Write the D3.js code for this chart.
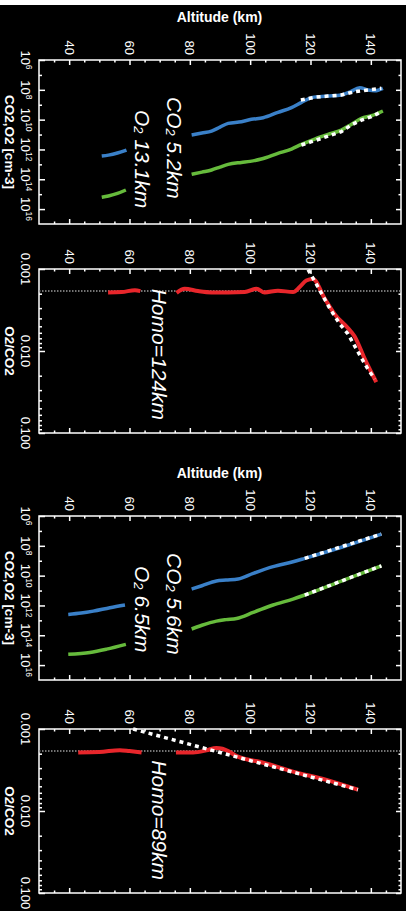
<!DOCTYPE html>
<html>
<head>
<meta charset="utf-8">
<title>CO2 / O2 homopause</title>
<script src="https://cdn.jsdelivr.net/npm/d3@7"></script>
<style>
  html, body { margin: 0; padding: 0; background: #000; }
  svg { display: block; }
  text { font-family: "Liberation Sans", Arial, Helvetica, sans-serif; fill: #fff; }
</style>
</head>
<body>
<script>
var width = 406, height = 911;

// axes
var altTicks = [40, 60, 80, 100, 120, 140];
var altMinor = [35, 45, 50, 55, 65, 70, 75, 85, 90, 95, 105, 110, 115, 125, 130, 135, 145];
var densTicks = [6, 8, 10, 12, 14, 16];          // log10 cm-3
var densMinor = [7, 9, 11, 13, 15];
var ratioTicks = [0.001, 0.01, 0.1];
var ratioLabels = ['0.001', '0.010', '0.100'];
var ratioMinor = [0.002, 0.003, 0.004, 0.005, 0.006, 0.007, 0.008, 0.009,
                  0.02, 0.03, 0.04, 0.05, 0.06, 0.07, 0.08, 0.09];

// case A : [altitude km, log10 density], null = no data
var co2A = [[50.8,12.44],[53,12.38],[56,12.24],[59,12.04], null,
  [80.6,11.03],[84,10.90],[87.2,10.77],[90,10.50],[92.7,10.25],[97.1,10.14],[100.4,9.98],
  [104.3,9.87],[109.2,9.51],[113.7,9.20],[117,8.84],[120.3,8.53],[123,8.46],[125.8,8.42],
  [130.2,8.35],[133,8.15],[136.3,7.86],[139.1,8.01],[141.3,8.06],[144,7.90]];
var co2FitA = [[116.8,8.68],[121.4,8.50],[125.8,8.42],[130.2,8.35],[134.6,8.13],[139.1,8.01],[143.5,7.90]];
var o2A = [[50.8,15.21],[53,15.12],[56,14.95],[58.8,14.72], null,
  [80.6,13.67],[84,13.52],[87.2,13.38],[90,13.18],[92.7,13.0],[97.1,12.87],[100,12.80],
  [103.7,12.64],[109.2,12.26],[113.7,11.97],[117,11.66],[121.4,11.30],[125.8,10.99],
  [130.2,10.70],[133.5,10.32],[136.9,9.91],[140.2,9.74],[144,9.42]];
var o2FitA = [[117,11.70],[120.3,11.48],[123.6,11.26],[126.9,11.03],[130.2,10.81],[133.5,10.36],
  [136.9,10.03],[140.2,9.80],[143.5,9.47]];
// O2/CO2 ratio
var ratioA = [[52.9,0.00193],[57.4,0.00191],[61.8,0.00181],[63.6,0.00186], null,
  [75.6,0.00195],[78.3,0.00174],[82.7,0.00186],[87.2,0.00193],[92.7,0.00193],[98.2,0.00191],
  [102.1,0.00174],[104.8,0.00193],[109.2,0.00184],[114.2,0.00191],[116.4,0.00166],
  [118.6,0.00138],[120.8,0.00132],[124.7,0.00229],[128,0.00355],[132.4,0.00525],
  [134.6,0.00661],[137.9,0.0123],[141.8,0.0240]];
var ratioFitA = [[119.2,0.00102],[122.5,0.00166],[126.4,0.00302],[129.7,0.00468],[132.4,0.00617],
  [135.7,0.0102],[139,0.0166],[141.3,0.0219]];
var lowRatioA = 0.00186;

// case B
var co2B = [[39.7,12.60],[44,12.51],[48,12.38],[53.5,12.15],[58.5,11.97], null,
  [80.6,10.90],[84,10.68],[88.8,10.36],[92,10.30],[96,10.23],[101,9.85],[107.6,9.40],
  [114.2,9.07],[118.1,8.84],[130.8,8.06],[143.5,7.21]];
var co2FitB = [[118.1,8.84],[143.5,7.21]];
var o2B = [[39.7,15.28],[46.9,15.15],[52.4,14.93],[58.8,14.61], null,
  [80.6,13.58],[84,13.33],[88.8,13.05],[92,12.95],[95.5,12.87],[101,12.47],[107.6,11.97],
  [114.2,11.57],[118.1,11.30],[130.8,10.32],[143.5,9.34]];
var o2FitB = [[118.1,11.30],[143.5,9.34]];
var ratioB = [[43,0.00193],[50,0.00191],[56.8,0.00181],[60,0.00186],[64,0.00193], null,
  [75.4,0.00193],[81.1,0.00193],[85.5,0.00182],[88.8,0.00170],[90.8,0.00174],[92.7,0.00186],
  [95.5,0.00214],[98.8,0.00234],[103.1,0.00251],[114.2,0.00331],[125.3,0.00417],[135.7,0.00550]];
var ratioFitB = [[61.2,0.00100],[135.7,0.00550]];
var lowRatioB = 0.00186;

var blue = '#3a80c8', green = '#66bb3c', red = '#e8262b';

var svg = d3.select('body').append('svg').attr('width', width).attr('height', height);
svg.append('rect').attr('width', width).attr('height', height).attr('fill', '#000');
svg.append('rect').attr('width', width).attr('height', 5).attr('fill', '#fff');

var x = d3.scaleLinear().domain([30, 150]).range([39, 401]);
var frameH = 164;

function ticks(g, axis, tx, ty, vals, size) {
    var a = g.append('g').attr('transform', 'translate(' + tx + ',' + ty + ')')
        .call(axis.tickValues(vals).tickSize(-size).tickFormat(''));
    a.select('.domain').remove();
    a.selectAll('line').attr('stroke-width', 1.5);
}

function drawFrame(top, y, yMajor, yMinor) {
    var g = svg.append('g').attr('color', '#fff');
    var x0 = x.range()[0], x1 = x.range()[1];
    ticks(g, d3.axisTop(x), 0, top, altTicks, 5);
    ticks(g, d3.axisTop(x), 0, top, altMinor, 2.5);
    ticks(g, d3.axisBottom(x), 0, top + frameH, altTicks, 5);
    ticks(g, d3.axisBottom(x), 0, top + frameH, altMinor, 2.5);
    ticks(g, d3.axisLeft(y), x0, 0, yMajor, 6);
    ticks(g, d3.axisLeft(y), x0, 0, yMinor, 3);
    ticks(g, d3.axisRight(y), x1, 0, yMajor, 5);
    ticks(g, d3.axisRight(y), x1, 0, yMinor, 2.5);
    g.append('rect').attr('x', x0).attr('y', top).attr('width', x1 - x0).attr('height', frameH)
        .attr('fill', 'none').attr('stroke', '#fff').attr('stroke-width', 1.5);
    g.selectAll('.altlab').data(altTicks).enter().append('text')
        .attr('transform', function(d){ return 'translate(' + x(d) + ',' + (top - 5) + ') rotate(90)'; })
        .attr('text-anchor', 'end').attr('dy', '0.35em').attr('font-size', 13)
        .text(function(d){ return d; });
    return g;
}

function drawLine(g, data, y, color, w) {
    var line = d3.line().defined(function(d){ return d !== null; })
        .x(function(d){ return x(d[0]); }).y(function(d){ return y(d[1]); })
        .curve(d3.curveMonotoneX);
    g.append('path').attr('d', line(data)).attr('fill', 'none').attr('stroke', color)
        .attr('stroke-width', w).attr('stroke-linejoin', 'round');
}

function drawFit(g, data, y) {
    var line = d3.line().x(function(d){ return x(d[0]); }).y(function(d){ return y(d[1]); });
    g.append('path').attr('d', line(data)).attr('fill', 'none').attr('stroke', '#fff')
        .attr('stroke-width', 3.5).attr('stroke-dasharray', '4,4');
}

function vLabel(g, px, py, anchor, main, sub, rest) {
    var t = g.append('text').attr('transform', 'translate(' + px + ',' + py + ') rotate(90)')
        .attr('text-anchor', anchor).attr('font-size', 21).attr('font-style', 'italic');
    t.append('tspan').text(main);
    if (sub) {
        t.append('tspan').attr('font-size', 13).attr('dy', 1.5).text(sub);
        t.append('tspan').attr('dy', -1.5).text(rest);
    }
    return t;
}

function densPanel(top, co2, co2Fit, o2, o2Fit, co2Lab, o2Lab) {
    var y = d3.scaleLog().domain([1e6, 1e17]).range([top, top + frameH]);
    var yv = function(v){ return y(Math.pow(10, v)); };
    var g = drawFrame(top, y, densTicks.map(function(e){ return Math.pow(10, e); }),
                      densMinor.map(function(e){ return Math.pow(10, e); }));
    svg.append('text').attr('x', 219.5).attr('y', top - 38).attr('text-anchor', 'middle')
        .attr('font-size', 14).attr('font-weight', 'bold').text('Altitude (km)');
    var lab = g.selectAll('.dlab').data(densTicks).enter().append('text')
        .attr('transform', function(e){ return 'translate(21,' + y(Math.pow(10, e)) + ') rotate(90)'; })
        .attr('text-anchor', 'middle').attr('font-size', 13);
    lab.append('tspan').text('10');
    lab.append('tspan').attr('font-size', 8.5).attr('dy', -5).text(function(e){ return e; });
    g.append('text').attr('transform', 'translate(5,' + (top + frameH / 2) + ') rotate(90)')
        .attr('text-anchor', 'middle').attr('font-size', 13.5).attr('font-weight', 'bold')
        .text('CO2,O2 [cm-3]');
    var py = function(d){ return d; };
    var yl = function(v){ return yv(v); };
    drawLine(g, co2, yl, blue, 3.5);
    drawLine(g, o2, yl, green, 3.5);
    drawFit(g, co2Fit, yl);
    drawFit(g, o2Fit, yl);
    vLabel(g, 167, top + 37, 'start', 'CO', '2', ' ' + co2Lab);
    vLabel(g, 135, top + 50, 'start', 'O', '2', ' ' + o2Lab);
}

function ratioPanel(top, ratio, fit, low, homoLab) {
    var y = d3.scaleLog().domain([0.001, 0.1]).range([top, top + frameH]);
    var g = drawFrame(top, y, ratioTicks, ratioMinor);
    g.selectAll('.rlab').data(ratioTicks).enter().append('text')
        .attr('transform', function(d){ return 'translate(21,' + y(d) + ') rotate(90)'; })
        .attr('text-anchor', 'middle').attr('font-size', 13)
        .text(function(d, i){ return ratioLabels[i]; });
    g.append('text').attr('transform', 'translate(5,' + (top + frameH / 2) + ') rotate(90)')
        .attr('text-anchor', 'middle').attr('font-size', 13.5).attr('font-weight', 'bold')
        .text('O2/CO2');
    g.append('line').attr('x1', x.range()[0]).attr('x2', x.range()[1])
        .attr('y1', y(low)).attr('y2', y(low)).attr('stroke', '#999')
        .attr('stroke-width', 1.5).attr('stroke-dasharray', '1.5,1.5');
    drawLine(g, ratio, y, red, 4);
    drawFit(g, fit, y);
    vLabel(g, 152, top + 151, 'end', homoLab);
}

densPanel(60, co2A, co2FitA, o2A, o2FitA, '5.2km', '13.1km');
ratioPanel(269, ratioA, ratioFitA, lowRatioA, 'Homo=124km');
densPanel(516, co2B, co2FitB, o2B, o2FitB, '5.6km', '6.5km');
ratioPanel(729, ratioB, ratioFitB, lowRatioB, 'Homo=89km');
</script>
</body>
</html>
